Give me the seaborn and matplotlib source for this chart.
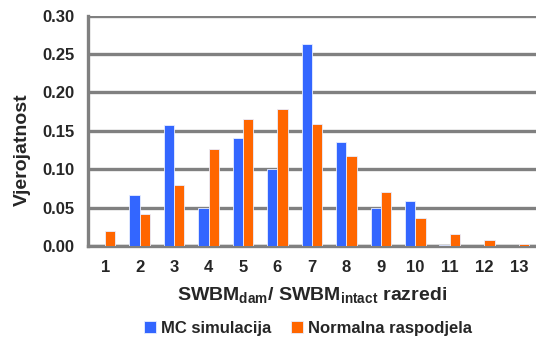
import matplotlib
matplotlib.use('Agg')
import matplotlib.pyplot as plt
import seaborn as sns
import pandas as pd

# class labels and probabilities
razredi = [str(i) for i in range(1, 14)]
mc_simulacija = [0.0, 0.066, 0.158, 0.049, 0.140, 0.100, 0.263, 0.135, 0.049, 0.059, 0.001, 0.0, 0.0]
normalna = [0.019, 0.041, 0.080, 0.126, 0.165, 0.179, 0.159, 0.117, 0.070, 0.036, 0.016, 0.008, 0.003]
serije = ['MC simulacija', 'Normalna raspodjela']

df = pd.DataFrame({
    'razred': razredi * 2,
    'vjerojatnost': mc_simulacija + normalna,
    'serija': [serije[0]] * len(razredi) + [serije[1]] * len(razredi),
})

sns.set_style('white')
plt.rcParams['font.family'] = ['Liberation Sans', 'DejaVu Sans']
plt.rcParams['font.weight'] = 'bold'
plt.rcParams['mathtext.fontset'] = 'custom'
plt.rcParams['mathtext.rm'] = 'Liberation Sans:bold'
plt.rcParams['mathtext.it'] = 'Liberation Sans:bold'
plt.rcParams['mathtext.bf'] = 'Liberation Sans:bold'

fig = plt.figure(figsize=(5.36, 3.42), dpi=100)
ax = fig.add_axes([0.164, 0.281, 0.836, 0.673])

sns.barplot(data=df, x='razred', y='vjerojatnost', hue='serija',
            palette=['#3366FF', '#FF6600'], saturation=1, width=0.6, gap=0.0,
            edgecolor='#e8eeff', linewidth=0.6, ax=ax, zorder=3)

ax.set_ylim(0, 0.30)
ax.set_xlim(-0.5, 12.5)
ax.set_yticks([0, 0.05, 0.10, 0.15, 0.20, 0.25, 0.30])
ax.set_yticklabels(['0.00', '0.05', '0.10', '0.15', '0.20', '0.25', '0.30'])
ax.yaxis.grid(True, color='#808080', linewidth=2.4, zorder=0)
ax.set_axisbelow(True)

for s in ['top', 'right']:
    ax.spines[s].set_visible(False)
for s in ['left', 'bottom']:
    ax.spines[s].set_color('#808080')
    ax.spines[s].set_linewidth(2.4)

ax.tick_params(axis='y', length=4.5, width=2.4, color='#808080', pad=5, labelsize=12)
ax.tick_params(axis='x', length=0, pad=10, labelsize=12)
ax.set_xticks([i + 0.5 for i in range(-1, 13)], minor=True)
ax.tick_params(axis='x', which='minor', length=4, width=2, color='#808080')

ax.set_xlabel(r'SWBM$_{dam}$/ SWBM$_{intact}$ razredi', fontsize=14, fontweight='bold', labelpad=7)
ax.set_ylabel('Vjerojatnost', fontsize=14, fontweight='bold')
ax.yaxis.set_label_coords(-0.128, 0.42)

ax.get_legend().remove()
handles, labels = ax.get_legend_handles_labels()
fig.legend(handles, labels, loc='center', bbox_to_anchor=(0.575, 0.04), ncol=2,
           frameon=False, fontsize=12, handlelength=0.7, handleheight=0.7,
           handletextpad=0.3, columnspacing=1.2)

fig.savefig('out.png', dpi=100)
